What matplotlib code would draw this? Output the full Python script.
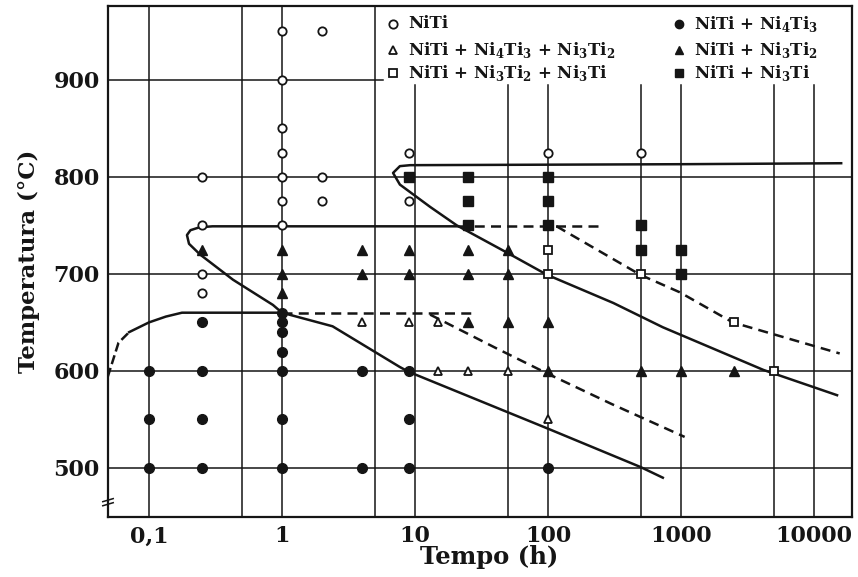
import matplotlib
matplotlib.use('Agg')
import matplotlib.pyplot as plt

plt.rcParams['font.family'] = 'DejaVu Serif'
plt.rcParams['font.weight'] = 'bold'
plt.rcParams['mathtext.fontset'] = 'custom'
plt.rcParams['mathtext.rm'] = 'DejaVu Serif:bold'
plt.rcParams['mathtext.bf'] = 'DejaVu Serif:bold'

# heat treatment points (time in h, temperature in C) per phase field
niti_t = [1, 2, 1, 1, 1, 1, 1, 1, 0.25, 2, 2, 0.25, 0.25, 0.25, 9, 9, 100, 500]
niti_T = [950, 950, 900, 850, 825, 800, 775, 750, 800, 800, 775, 750, 700, 680, 825, 775, 825, 825]

ni4_t = [0.1, 0.1, 0.1, 0.25, 0.25, 0.25, 0.25, 1, 1, 1, 1, 1, 1, 1, 4, 4, 9, 9, 9, 100]
ni4_T = [600, 550, 500, 650, 600, 550, 500, 660, 650, 640, 620, 600, 550, 500, 600, 500, 600, 550, 500, 500]

ni4_ni3ti2_t = [4, 9, 15, 15, 25, 50, 100]
ni4_ni3ti2_T = [650, 650, 650, 600, 600, 600, 550]

ni3ti2_t = [0.25, 1, 4, 9, 25, 50, 1, 4, 9, 25, 50, 1, 25, 50, 100, 100, 500, 1000, 2500]
ni3ti2_T = [725, 725, 725, 725, 725, 725, 700, 700, 700, 700, 700, 680, 650, 650, 650, 600, 600, 600, 600]

ni3ti2_ni3ti_t = [100, 100, 500, 2500, 5000]
ni3ti2_ni3ti_T = [725, 700, 700, 650, 600]

ni3ti_t = [9, 25, 100, 25, 100, 25, 100, 500, 500, 1000, 1000]
ni3ti_T = [800, 800, 800, 775, 775, 750, 750, 750, 725, 725, 700]

# transformation curves
low_dash_t = [0.049, 0.059, 0.071]
low_dash_T = [594, 629, 640]
low_flat_t = [0.071, 0.1, 0.134, 0.177, 0.3, 1.0]
low_flat_T = [640, 650, 656, 660, 660, 660]
low_ext_t = [1.0, 27]
low_ext_T = [660, 660]

mid_c_t = [21, 1, 0.3, 0.24, 0.205, 0.193, 0.2, 0.242, 0.428, 0.855, 1.0, 2.4, 7.7, 9, 98, 496, 730]
mid_c_T = [749, 749, 749, 748, 745, 740, 731, 720, 694, 668, 660, 646, 604, 599, 541, 501, 490]
mid_ext_t = [21, 254]
mid_ext_T = [749, 749]

up_c_t = [16000, 1000, 9.2, 7.7, 6.84, 7.7, 13, 20.6, 49, 98.5, 310, 730, 4170, 14900]
up_c_T = [814, 813, 812, 811, 804, 792, 769, 750, 722, 699, 670, 645, 601, 575]

dash_low_t = [13, 40, 100, 300, 1065]
dash_low_T = [658, 624, 597, 566, 532]
dash_up_t = [116, 495, 980, 2450, 15600]
dash_up_T = [749, 699, 681, 650, 618]

x_ticks = [0.1, 1, 10, 100, 1000, 10000]
x_labels = ['0,1', '1', '10', '100', '1000', '10000']
y_ticks = [500, 600, 700, 800, 900]
x_grid = [0.1, 0.5, 1, 5, 10, 50, 100, 500, 1000, 5000, 10000]

fig = plt.figure(figsize=(8.58, 5.77), dpi=100)
ax = fig.add_axes([108 / 858, 60 / 577, 744 / 858, 511 / 577])
ax.set_xscale('log')
ax.set_xlim(0.0492, 19300)
ax.set_ylim(449.5, 976)

k = '#151515'
for T in [500, 600, 700, 800]:
    ax.axhline(T, color=k, lw=1.1, zorder=1)
ax.axhline(900, xmax=0.37, color=k, lw=1.1, zorder=1)
for t in x_grid:
    ax.axvline(t, ymax=(0.845 if t >= 10 else 1), color=k, lw=1.1, zorder=1)

lw = 1.8
ax.plot(low_dash_t, low_dash_T, '--', color=k, lw=lw, zorder=2)
ax.plot(low_flat_t, low_flat_T, '-', color=k, lw=lw, zorder=2)
ax.plot(low_ext_t, low_ext_T, '--', color=k, lw=lw, dashes=(4, 2.5), zorder=2)
ax.plot(mid_c_t, mid_c_T, '-', color=k, lw=lw, zorder=2)
ax.plot(mid_ext_t, mid_ext_T, '--', color=k, lw=lw, dashes=(4, 2.5), zorder=2)
ax.plot(up_c_t, up_c_T, '-', color=k, lw=lw, zorder=2)
ax.plot(dash_low_t, dash_low_T, '--', color=k, lw=lw, dashes=(4, 2.5), zorder=2)
ax.plot(dash_up_t, dash_up_T, '--', color=k, lw=lw, dashes=(4, 2.5), zorder=2)

opn = dict(linestyle='none', mfc='white', mec=k, mew=1.3, zorder=3)
fil = dict(linestyle='none', mfc=k, mec=k, zorder=3)
ax.plot(niti_t, niti_T, 'o', ms=6, **opn)
ax.plot(ni4_t, ni4_T, 'o', ms=7, **fil)
ax.plot(ni4_ni3ti2_t, ni4_ni3ti2_T, '^', ms=6, **opn)
ax.plot(ni3ti2_t, ni3ti2_T, '^', ms=7, **fil)
ax.plot(ni3ti2_ni3ti_t, ni3ti2_ni3ti_T, 's', ms=6, **opn)
ax.plot(ni3ti_t, ni3ti_T, 's', ms=6.5, **fil)

# legend written directly inside the plot area
legend_rows = [
    (0.383, 0.965, 'o', opn, 'NiTi'),
    (0.383, 0.914, '^', opn, r'NiTi + Ni$_4$Ti$_3$ + Ni$_3$Ti$_2$'),
    (0.383, 0.869, 's', opn, r'NiTi + Ni$_3$Ti$_2$ + Ni$_3$Ti'),
    (0.767, 0.965, 'o', fil, r'NiTi + Ni$_4$Ti$_3$'),
    (0.767, 0.914, '^', fil, r'NiTi + Ni$_3$Ti$_2$'),
    (0.767, 0.869, 's', fil, r'NiTi + Ni$_3$Ti'),
]
for x, y, m, st, label in legend_rows:
    ax.plot([x], [y], m, ms=6, transform=ax.transAxes, clip_on=False, **st)
    ax.text(x + 0.02, y, label, transform=ax.transAxes, fontsize=12,
            fontweight='bold', va='center', ha='left', color=k)

ax.set_xticks(x_ticks)
ax.set_xticklabels(x_labels)
ax.set_yticks(y_ticks)
ax.minorticks_off()
ax.tick_params(length=0, labelsize=16, pad=6, colors=k)
for lab in ax.get_xticklabels() + ax.get_yticklabels():
    lab.set_fontweight('bold')
for s in ax.spines.values():
    s.set_linewidth(1.6)
    s.set_color(k)

# small break mark near the bottom of the temperature axis
ax.plot([-0.007, 0.007], [0.030, 0.036], color=k, lw=1.1, transform=ax.transAxes, clip_on=False)
ax.plot([-0.007, 0.007], [0.022, 0.028], color=k, lw=1.1, transform=ax.transAxes, clip_on=False)

ax.set_xlabel('Tempo (h)', fontsize=17.5, fontweight='bold', color=k)
ax.xaxis.set_label_coords(0.512, -0.054)
ax.set_ylabel('Temperatura (°C)', fontsize=16.5, fontweight='bold', color=k)
ax.yaxis.set_label_coords(-0.092, 0.5)

fig.savefig('out.png', dpi=100)
